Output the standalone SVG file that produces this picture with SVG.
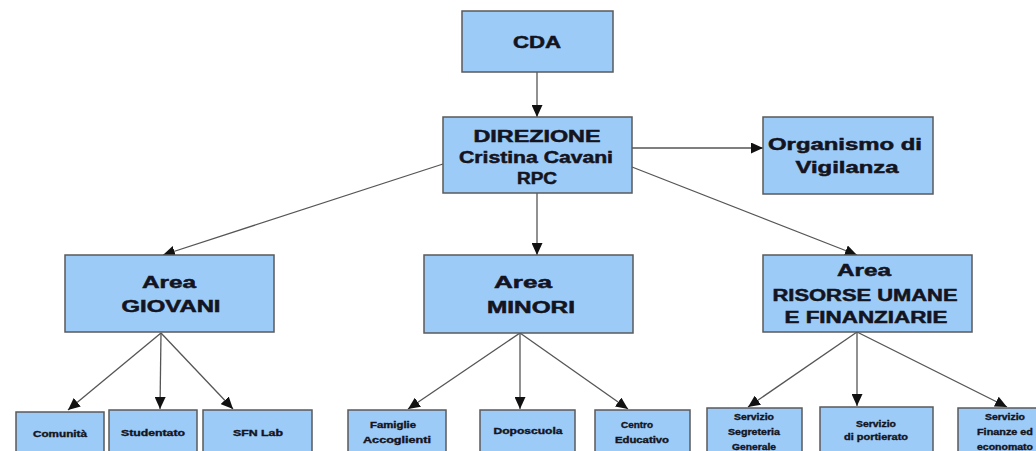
<svg xmlns="http://www.w3.org/2000/svg" width="1036" height="451" viewBox="0 0 1036 451">
<style>
.box{fill:#9ccbf8;stroke:#5a5a5a;stroke-width:1.5}
.t{font-family:"Liberation Sans",Arial,sans-serif;font-weight:bold;fill:#141420;text-anchor:middle;stroke:#141420;stroke-width:0.5}
.big{font-size:16px}
.sm{font-size:8.5px;stroke-width:0.35}
.c{stroke:#555;stroke-width:1.3;fill:none;marker-end:url(#ah)}
</style>
<defs>
<marker id="ah" markerUnits="userSpaceOnUse" markerWidth="13" markerHeight="11" refX="12" refY="5.5" orient="auto">
<path d="M0,0 L12,5.5 L0,11 Z" fill="#111"/>
</marker>
</defs>
<rect width="1036" height="451" fill="#fff"/>
<g id="connectors">
<line class="c" x1="537" y1="72" x2="537" y2="117"/>
<line class="c" x1="632" y1="148" x2="763" y2="148"/>
<line class="c" x1="443" y1="164" x2="163" y2="255"/>
<line class="c" x1="537" y1="193" x2="537" y2="255"/>
<line class="c" x1="632" y1="167" x2="857" y2="255"/>
<line class="c" x1="161" y1="333" x2="68" y2="410"/>
<line class="c" x1="161" y1="333" x2="160" y2="409"/>
<line class="c" x1="161" y1="333" x2="233" y2="409"/>
<line class="c" x1="520" y1="333" x2="408" y2="409"/>
<line class="c" x1="520" y1="333" x2="520" y2="409"/>
<line class="c" x1="520" y1="333" x2="628" y2="409"/>
<line class="c" x1="857" y1="332" x2="748" y2="407"/>
<line class="c" x1="857" y1="332" x2="857" y2="406"/>
<line class="c" x1="857" y1="332" x2="1007" y2="407"/>
</g>
<g id="cda"><rect class="box" x="462" y="11" width="151" height="61"/>
<text class="t big" x="537" y="48" textLength="48" lengthAdjust="spacingAndGlyphs">CDA</text></g>
<g id="direzione"><rect class="box" x="443" y="117" width="189" height="76"/>
<text class="t big" x="537" y="142" textLength="127" lengthAdjust="spacingAndGlyphs">DIREZIONE</text>
<text class="t big" x="536" y="163" textLength="154" lengthAdjust="spacingAndGlyphs">Cristina Cavani</text>
<text class="t big" x="537" y="184" textLength="40" lengthAdjust="spacingAndGlyphs">RPC</text></g>
<g id="organismo"><rect class="box" x="763" y="117" width="170" height="77"/>
<text class="t big" x="845" y="150" textLength="154" lengthAdjust="spacingAndGlyphs">Organismo di</text>
<text class="t big" x="847" y="173" textLength="103" lengthAdjust="spacingAndGlyphs">Vigilanza</text></g>
<g id="giovani"><rect class="box" x="65" y="255" width="209" height="77"/>
<text class="t big" x="169" y="288" textLength="54" lengthAdjust="spacingAndGlyphs">Area</text>
<text class="t big" x="171" y="312" textLength="99" lengthAdjust="spacingAndGlyphs">GIOVANI</text></g>
<g id="minori"><rect class="box" x="424" y="255" width="209" height="78"/>
<text class="t big" x="523" y="288" textLength="58" lengthAdjust="spacingAndGlyphs">Area</text>
<text class="t big" x="531" y="313" textLength="88" lengthAdjust="spacingAndGlyphs">MINORI</text></g>
<g id="risorse"><rect class="box" x="763" y="255" width="209" height="77"/>
<text class="t big" x="864" y="276" textLength="54" lengthAdjust="spacingAndGlyphs">Area</text>
<text class="t big" x="865" y="301" textLength="185" lengthAdjust="spacingAndGlyphs">RISORSE UMANE</text>
<text class="t big" x="866" y="323" textLength="163" lengthAdjust="spacingAndGlyphs">E FINANZIARIE</text></g>
<g id="comunita"><rect class="box" x="16" y="412" width="88" height="50"/>
<text class="t sm" x="60" y="437" textLength="54" lengthAdjust="spacingAndGlyphs">Comunità</text></g>
<g id="studentato"><rect class="box" x="109" y="410" width="88" height="52"/>
<text class="t sm" x="153" y="436" textLength="64" lengthAdjust="spacingAndGlyphs">Studentato</text></g>
<g id="sfnlab"><rect class="box" x="203" y="410" width="109" height="52"/>
<text class="t sm" x="258" y="436" textLength="50" lengthAdjust="spacingAndGlyphs">SFN Lab</text></g>
<g id="famiglie"><rect class="box" x="348" y="410" width="98" height="52"/>
<text class="t sm" x="393" y="428" textLength="46" lengthAdjust="spacingAndGlyphs">Famiglie</text>
<text class="t sm" x="397" y="443" textLength="68" lengthAdjust="spacingAndGlyphs">Accoglienti</text></g>
<g id="doposcuola"><rect class="box" x="480" y="410" width="95" height="52"/>
<text class="t sm" x="528" y="434" textLength="69" lengthAdjust="spacingAndGlyphs">Doposcuola</text></g>
<g id="centro"><rect class="box" x="595" y="410" width="95" height="52"/>
<text class="t sm" x="637" y="428" textLength="32" lengthAdjust="spacingAndGlyphs">Centro</text>
<text class="t sm" x="642" y="443" textLength="54" lengthAdjust="spacingAndGlyphs">Educativo</text></g>
<g id="segreteria"><rect class="box" x="707" y="408" width="95" height="54"/>
<text class="t sm" x="754" y="420" textLength="40" lengthAdjust="spacingAndGlyphs">Servizio</text>
<text class="t sm" x="754" y="435" textLength="52" lengthAdjust="spacingAndGlyphs">Segreteria</text>
<text class="t sm" x="754" y="450" textLength="44" lengthAdjust="spacingAndGlyphs">Generale</text></g>
<g id="portierato"><rect class="box" x="820" y="407" width="113" height="55"/>
<text class="t sm" x="876" y="427" textLength="40" lengthAdjust="spacingAndGlyphs">Servizio</text>
<text class="t sm" x="876" y="440" textLength="64" lengthAdjust="spacingAndGlyphs">di portierato</text></g>
<g id="finanze"><rect class="box" x="958" y="408" width="95" height="54"/>
<text class="t sm" x="1005" y="420" textLength="40" lengthAdjust="spacingAndGlyphs">Servizio</text>
<text class="t sm" x="1005" y="435" textLength="56" lengthAdjust="spacingAndGlyphs">Finanze ed</text>
<text class="t sm" x="1005" y="450" textLength="56" lengthAdjust="spacingAndGlyphs">economato</text></g>
</svg>
